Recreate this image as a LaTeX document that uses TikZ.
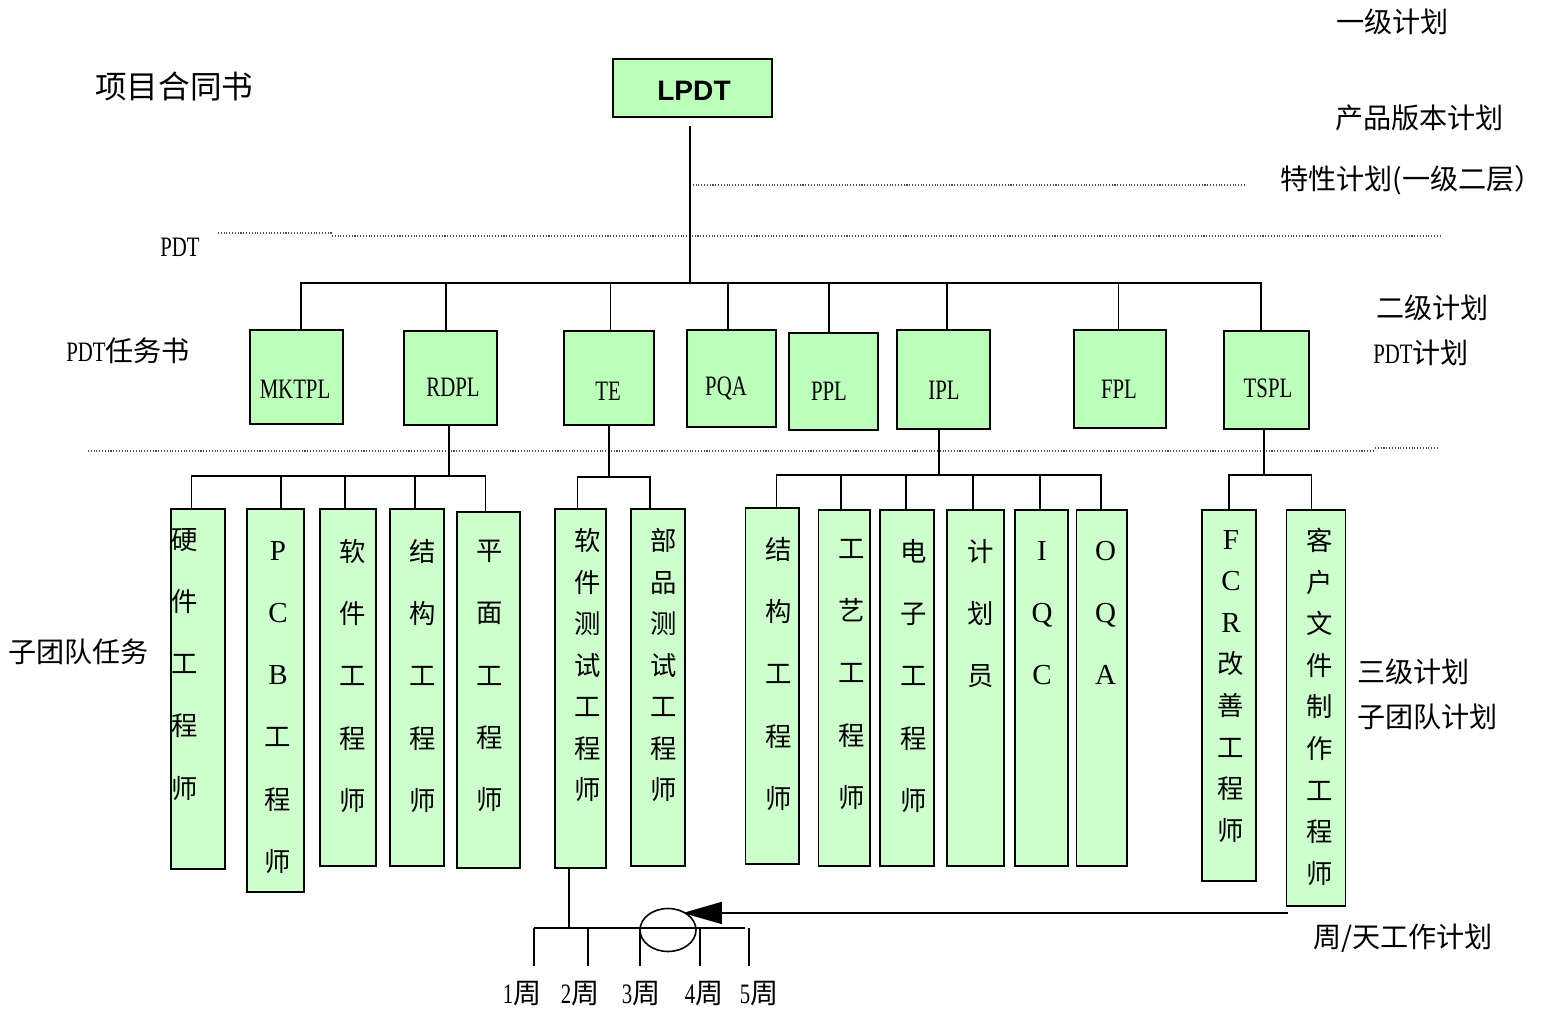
\documentclass[tikz,border=0pt]{standalone}
\usepackage{fontspec}
\setmainfont{Noto Sans CJK SC}
\newfontfamily\condserif[FakeStretch=0.74]{Liberation Serif}
\newfontfamily\timesfont{Liberation Serif}
\newfontfamily\arialfont{Liberation Sans}
\newcommand\lat[1]{{\timesfont\fontsize{16.5}{20}\selectfont #1}}
\usetikzlibrary{arrows.meta,positioning,fit,calc,shapes.geometric}
\definecolor{plangreen}{RGB}{187,255,187}
\definecolor{teamgreen}{RGB}{204,255,204}

\begin{document}
\begin{tikzpicture}[x=0.02cm,y=-0.02cm,
        topbox/.style={draw,line width=1.1pt,fill=plangreen,inner sep=0pt},
        toptext/.style={inner sep=0pt,font=\arialfont\bfseries\fontsize{16}{19}\selectfont},
        pdtbox/.style={draw,line width=1.1pt,fill=plangreen,inner sep=0pt},
        teambox/.style={draw,line width=1.1pt,fill=teamgreen,inner sep=0pt},
        pdttext/.style={inner sep=0pt,font=\condserif\fontsize{16}{19}\selectfont},
        widecol/.style={anchor=north,align=center,inner sep=0pt,
                        font=\fontsize{15}{35.4}\selectfont},
        tightcol/.style={anchor=north,align=center,inner sep=0pt,
                         font=\fontsize{15}{23.65}\selectfont},
        sidetext/.style={anchor=west,inner sep=0pt,font=\fontsize{16}{19}\selectfont},
        weektext/.style={inner sep=0pt,font=\fontsize{16}{19}\selectfont},
        conn/.style={line width=0.9pt},
        guide/.style={densely dotted,line width=0.6pt,black!70}]
        \useasboundingbox (0,0) rectangle (1541,1010);

        % side texts
        \node[sidetext,font=\fontsize{18}{22}\selectfont] (contract) at (95,86) {项目合同书};
        \node[sidetext] (pdt) at (160,247) {{\condserif PDT}};
        \node[sidetext] (pdtbook) at (66,351) {{\condserif PDT}任务书};
        \node[sidetext] (teamtask) at (8,652) {子团队任务};
        \node[sidetext] (levelone) at (1336,22) {一级计划};
        \node[sidetext] (version) at (1335,118) {产品版本计划};
        \node[sidetext] (feature) at (1280,180) {特性计划(一级二层）};
        \node[sidetext] (leveltwo) at (1376,308) {二级计划};
        \node[sidetext] (pdtplan) at (1373,353) {{\condserif PDT}计划};
        \node[sidetext] (levelthree) at (1357,672) {三级计划};
        \node[sidetext] (teamplan) at (1357,717) {子团队计划};
        \node[sidetext] (dayplan) at (1313,938) {周/天工作计划};

        % dotted level lines
        \draw[guide] (690,185) -- (1245,185);
        \draw[guide] (218,233) -- (332,233);
        \draw[guide] (332,236) -- (1440,236);
        \draw[guide] (88,451) -- (1375,451);
        \draw[guide] (1375,448) -- (1438,448);

        % level one
        \node[topbox,fit={(613,59) (772,117)}] (lpdt) {};
        \node[toptext] (lpdt-l) at (694,91) {LPDT};
        \coordinate (topbus) at (690,283);
        \draw[conn] ($(lpdt.south)+(-2.5,8)$) -- (topbus);

        % level two
        \node[pdtbox,fit={(250,330) (343,424)}] (mktpl) {};
        \node[pdtbox,fit={(404,331) (497,425)}] (rdpl) {};
        \node[pdtbox,fit={(564,331) (654,425)}] (te) {};
        \node[pdtbox,fit={(687,330) (776,427)}] (pqa) {};
        \node[pdtbox,fit={(789,333) (878,430)}] (ppl) {};
        \node[pdtbox,fit={(897,330) (990,429)}] (ipl) {};
        \node[pdtbox,fit={(1074,330) (1166,428)}] (fpl) {};
        \node[pdtbox,fit={(1224,331) (1309,429)}] (tspl) {};
        \node[pdttext] (mktpl-l) at (295,389) {MKTPL};
        \node[pdttext] (rdpl-l) at (453,387) {RDPL};
        \node[pdttext] (te-l) at (608,391) {TE};
        \node[pdttext] (pqa-l) at (726,388) {PQA};
        \node[pdttext] (ppl-l) at (829,391) {PPL};
        \node[pdttext] (ipl-l) at (944,390) {IPL};
        \node[pdttext] (fpl-l) at (1119,389) {FPL};
        \node[pdttext] (tspl-l) at (1268,388) {TSPL};

        \draw[conn] ($(mktpl.north)+(4.5,0)$) |- (topbus);
        \draw[conn] ($(rdpl.north)+(-4.5,0)$) |- (topbus);
        \draw[conn] ($(te.north)+(1.5,0)$) |- (topbus);
        \draw[conn] ($(pqa.north)+(-3.5,0)$) |- (topbus);
        \draw[conn] ($(ppl.north)+(-4.5,0)$) |- (topbus);
        \draw[conn] ($(ipl.north)+(3.5,0)$) |- (topbus);
        \draw[conn] ($(fpl.north)+(-1.5,0)$) |- (topbus);
        \draw[conn] ($(tspl.north)+(-5.5,0)$) |- (topbus);

        % level three, RDPL team
        \coordinate (rdbus) at (449,476);
        \draw[conn] ($(rdpl.south)+(-1.5,0)$) -- (rdbus);
        \node[teambox,fit={(171,509) (225,869)}] (hardware) {};
        \node[teambox,fit={(247,509) (304,892)}] (pcb) {};
        \node[teambox,fit={(320,509) (376,866)}] (software) {};
        \node[teambox,fit={(390,509) (444,866)}] (mech) {};
        \node[teambox,fit={(457,512) (520,868)}] (graphic) {};
        \node[widecol] (hardware-l) at (185,528) {硬\\件\\工\\程\\师};
        \node[widecol] (pcb-l) at (278,541) {\lat{P}\\\lat{C}\\\lat{B}\\工\\程\\师};
        \node[widecol] (software-l) at (353,539) {软\\件\\工\\程\\师};
        \node[widecol] (mech-l) at (423,539) {结\\构\\工\\程\\师};
        \node[widecol] (graphic-l) at (490,540) {平\\面\\工\\程\\师};
        \draw[conn] ($(hardware.north)+(-6.5,0)$) |- (rdbus);
        \draw[conn] ($(pcb.north)+(5.3,0)$) |- (rdbus);
        \draw[conn] ($(software.north)+(-3,0)$) |- (rdbus);
        \draw[conn] ($(mech.north)+(-2,0)$) |- (rdbus);
        \draw[conn] ($(graphic.north)+(-2.8,0)$) |- (rdbus);

        % TE team
        \coordinate (tebus) at (609,477);
        \draw[conn] (te.south) -- (tebus);
        \node[teambox,fit={(555,509) (606,868)}] (swtest) {};
        \node[teambox,fit={(631,509) (685,866)}] (parttest) {};
        \node[tightcol] (swtest-l) at (588,528) {软\\件\\测\\试\\工\\程\\师};
        \node[tightcol] (parttest-l) at (664,528) {部\\品\\测\\试\\工\\程\\师};
        \draw[conn] ($(swtest.north)+(-2.8,0)$) |- (tebus);
        \draw[conn] ($(parttest.north)+(-8,0)$) |- (tebus);

        % IPL team
        \coordinate (ipbus) at (939,475);
        \draw[conn] ($(ipl.south)+(-4.5,0)$) -- (ipbus);
        \node[teambox,fit={(745.5,508) (799,864)}] (mech2) {};
        \node[teambox,fit={(818.5,510) (870,866)}] (process) {};
        \node[teambox,fit={(880,510) (934,866)}] (electronic) {};
        \node[teambox,fit={(947,510) (1004,866)}] (planner) {};
        \node[teambox,fit={(1015,510) (1068,866)}] (iqc) {};
        \node[teambox,fit={(1076.5,510) (1127,866)}] (oqa) {};
        \node[widecol] (mech2-l) at (778.5,537) {结\\构\\工\\程\\师};
        \node[widecol] (process-l) at (852,539) {工\\艺\\工\\程\\师};
        \node[widecol] (electronic-l) at (914,539) {电\\子\\工\\程\\师};
        \node[widecol] (planner-l) at (980.5,539) {计\\划\\员};
        \node[widecol] (iqc-l) at (1042,541) {\lat{I}\\\lat{Q}\\\lat{C}};
        \node[widecol] (oqa-l) at (1105.5,541) {\lat{O}\\\lat{Q}\\\lat{A}};
        \draw[conn] ($(mech2.north)+(4.3,0)$) |- (ipbus);
        \draw[conn] ($(process.north)+(-3.2,0)$) |- (ipbus);
        \draw[conn] ($(electronic.north)+(-1,0)$) |- (ipbus);
        \draw[conn] ($(planner.north)+(-2.5,0)$) |- (ipbus);
        \draw[conn] ($(iqc.north)+(-1.5,0)$) |- (ipbus);
        \draw[conn] ($(oqa.north)+(-0.8,0)$) |- (ipbus);

        % TSPL team
        \coordinate (tsbus) at (1264,475);
        \draw[conn] ($(tspl.south)+(-2.5,0)$) -- (tsbus);
        \node[teambox,fit={(1202,510) (1256,881)}] (fcr) {};
        \node[teambox,fit={(1286.5,510) (1345.5,906)}] (customer) {};
        \node[tightcol] (fcr-l) at (1231,530) {\lat{F}\\\lat{C}\\\lat{R}\\改\\善\\工\\程\\师};
        \node[tightcol] (customer-l) at (1320,528) {客\\户\\文\\件\\制\\作\\工\\程\\师};
        \draw[conn] (fcr.north) |- (tsbus);
        \draw[conn] ($(customer.north)+(-4.5,0)$) |- (tsbus);

        % week plan
        \coordinate (weekmid) at (569,929);
        \draw[conn] ($(swtest.south)+(-11.5,0)$) -- (weekmid);
        \draw[conn] (534,928) -- (745,928);
        \foreach \x in {534,588,640,700,749}
            \draw[conn] (\x,928) -- (\x,966);
        \foreach \x/\n in {522/1,580/2,641/3,704/4,759/5}
            \node[weektext] (week\n) at (\x,994) {{\condserif \n}周};
        \node[draw,ellipse,line width=0.9pt,minimum width=1.12cm,minimum height=0.86cm,
              inner sep=0pt] (nowmark) at (668,930) {};
        \coordinate (planstart) at ($(customer.south west)+(2,6)$);
        \draw[conn,-{Triangle[length=0.78cm,width=0.44cm]}] (planstart) -- (planstart -| nowmark.52);
    \end{tikzpicture}
\end{document}
